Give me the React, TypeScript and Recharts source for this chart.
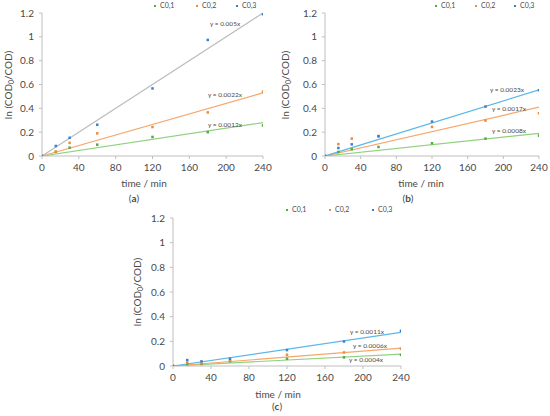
import React from "react";
import { ScatterChart, Scatter, XAxis, YAxis } from "recharts";

const times = [0, 15, 30, 60, 120, 180, 240];
const xTicks = [0, 40, 80, 120, 160, 200, 240];
const yTicks = [0, 0.2, 0.4, 0.6, 0.8, 1, 1.2];
const seriesNames = ["C0,1", "C0,2", "C0,3"];

const aC01 = [0, 0.035, 0.07, 0.095, 0.16, 0.2, 0.257];
const aC02 = [0, 0.036, 0.11, 0.19, 0.243, 0.366, 0.54];
const aC03 = [0, 0.084, 0.153, 0.262, 0.567, 0.974, 1.19];
const aTrendEnd = [0.28, 0.53, 1.2];
const aEquations = ["y = 0.0012x", "y = 0.0022x", "y = 0.005x"];

const bC01 = [0, 0.034, 0.056, 0.076, 0.107, 0.146, 0.171];
const bC02 = [0, 0.1, 0.146, 0.168, 0.244, 0.297, 0.359];
const bC03 = [0, 0.067, 0.098, 0.165, 0.289, 0.415, 0.552];
const bTrendEnd = [0.19, 0.41, 0.555];
const bEquations = ["y = 0.0008x", "y = 0.0017x", "y = 0.0023x"];

const cC01 = [0, 0.016, 0.016, 0.038, 0.059, 0.07, 0.09];
const cC02 = [0, 0.027, 0.02, 0.043, 0.091, 0.11, 0.14];
const cC03 = [0, 0.048, 0.038, 0.059, 0.129, 0.199, 0.285];
const cTrendEnd = [0.097, 0.145, 0.272];
const cEquations = ["y = 0.0004x", "y = 0.0006x", "y = 0.0011x"];

const markerColors = ["#4FAE3F", "#F08A3C", "#3A7FD5"];
const FONT = "Lato, 'Open Sans', sans-serif";
const TEXT = "#4a4a4a";

const toPts = (vals: number[]) => times.map((t, i) => ({ x: t, y: vals[i] }));

const Square = (props: any) => {
  const { cx, cy, fill } = props;
  if (cx == null || cy == null) return <g />;
  return <rect x={cx - 1.25} y={cy - 1.25} width={2.5} height={2.5} fill={fill} />;
};
const NoShape = () => <g />;

type PanelProps = {
  left: number;
  top: number;
  width: number;
  height: number;
  yAxisWidth: number;
  margin: { top: number; right: number; bottom: number; left: number };
  series: number[][];
  trendEnd: number[];
  trendColors: string[];
  yLabelX: number;
};

const Panel = (p: PanelProps) => {
  const plotTop = p.margin.top;
  const plotBottom = p.height - p.margin.bottom - 30;
  const yMid = (plotTop + plotBottom) / 2;
  return (
    <div style={{ position: "absolute", left: p.left, top: p.top }}>
      <ScatterChart width={p.width} height={p.height} margin={p.margin}>
        <XAxis
          type="number"
          dataKey="x"
          domain={[0, 240]}
          ticks={xTicks}
          height={30}
          tickSize={3}
          tickMargin={5}
          stroke="#BFBFBF"
          tick={{ fill: TEXT, fontSize: 10, fontFamily: FONT }}
          allowDataOverflow
        />
        <YAxis
          type="number"
          dataKey="y"
          domain={[0, 1.2]}
          ticks={yTicks}
          width={p.yAxisWidth}
          tickSize={3}
          tickMargin={5}
          stroke="#BFBFBF"
          tick={{ fill: TEXT, fontSize: 10, fontFamily: FONT }}
          allowDataOverflow
        />
        {p.trendEnd.map((end, i) => (
          <Scatter
            key={"t" + i}
            data={[
              { x: 0, y: 0 },
              { x: 240, y: end },
            ]}
            line={{ stroke: p.trendColors[i], strokeWidth: 1.2 }}
            shape={NoShape}
            fill={p.trendColors[i]}
            isAnimationActive={false}
            legendType="none"
          />
        ))}
        {p.series.map((vals, i) => (
          <Scatter
            key={"s" + i}
            name={seriesNames[i]}
            data={toPts(vals)}
            fill={markerColors[i]}
            shape={Square}
            isAnimationActive={false}
          />
        ))}
      </ScatterChart>
      <div
        style={{
          position: "absolute",
          left: p.yLabelX - 60,
          top: yMid - 7,
          width: 120,
          height: 14,
          lineHeight: "14px",
          textAlign: "center",
          transform: "rotate(-90deg)",
          fontFamily: FONT,
          fontSize: 10,
          color: TEXT,
          whiteSpace: "nowrap",
        }}
      >
        ln (COD<sub style={{ fontSize: 7, verticalAlign: "-2px" }}>0</sub>/COD)
      </div>
    </div>
  );
};

const Abs = ({ x, y, size, children, center }: any) => (
  <div
    style={{
      position: "absolute",
      left: center ? x - 50 : x,
      top: y - size * 0.65,
      width: center ? 100 : undefined,
      textAlign: center ? "center" : "left",
      fontFamily: FONT,
      fontSize: size,
      lineHeight: size * 1.3 + "px",
      color: TEXT,
      whiteSpace: "nowrap",
      fontWeight: 400,
    }}
  >
    {children}
  </div>
);

const Legend = ({ xs, y }: { xs: number[]; y: number }) => (
  <>
    {xs.map((x, i) => (
      <div key={i}>
        <div
          style={{
            position: "absolute",
            left: x - 1.25,
            top: y - 1.25,
            width: 2.5,
            height: 2.5,
            background: markerColors[i],
          }}
        />
        <Abs x={x + 5} y={y} size={7}>
          {seriesNames[i]}
        </Abs>
      </div>
    ))}
  </>
);

const Caption = ({ x, y, letter }: any) => (
  <Abs x={x} y={y} size={10} center>
    (<b>{letter}</b>)
  </Abs>
);

export default function App() {
  return (
    <div
      style={{
        position: "absolute",
        left: 0,
        top: 0,
        width: 550,
        height: 416,
        background: "#fff",
        overflow: "hidden",
      }}
    >
      <Panel
        left={0}
        top={0}
        width={275}
        height={205}
        yAxisWidth={42}
        margin={{ top: 13, right: 12, bottom: 19, left: 0 }}
        series={[aC01, aC02, aC03]}
        trendEnd={aTrendEnd}
        trendColors={["#8FD17E", "#F7A66B", "#BDBDBD"]}
        yLabelX={8}
      />
      <Panel
        left={275}
        top={0}
        width={275}
        height={205}
        yAxisWidth={50}
        margin={{ top: 13, right: 11, bottom: 19, left: 0 }}
        series={[bC01, bC02, bC03]}
        trendEnd={bTrendEnd}
        trendColors={["#8FD17E", "#F7A66B", "#5CB8E8"]}
        yLabelX={10}
      />
      <Panel
        left={130}
        top={205}
        width={290}
        height={211}
        yAxisWidth={43}
        margin={{ top: 13, right: 19, bottom: 20, left: 0 }}
        series={[cC01, cC02, cC03]}
        trendEnd={cTrendEnd}
        trendColors={["#8FD17E", "#F7A66B", "#5CB8E8"]}
        yLabelX={7}
      />

      <Legend xs={[155, 197, 237]} y={6} />
      <Legend xs={[436, 476, 515]} y={6} />
      <Legend xs={[287, 330, 373]} y={210} />

      <Abs x={210} y={24} size={6.5}>{aEquations[2]}</Abs>
      <Abs x={208} y={95} size={6.5}>{aEquations[1]}</Abs>
      <Abs x={208} y={125} size={6.5}>{aEquations[0]}</Abs>

      <Abs x={490} y={90} size={6.5}>{bEquations[2]}</Abs>
      <Abs x={492} y={109} size={6.5}>{bEquations[1]}</Abs>
      <Abs x={492} y={131} size={6.5}>{bEquations[0]}</Abs>

      <Abs x={350} y={332} size={6.5}>{cEquations[2]}</Abs>
      <Abs x={353} y={346} size={6.5}>{cEquations[1]}</Abs>
      <Abs x={349} y={360} size={6.5}>{cEquations[0]}</Abs>

      <Abs x={144} y={183} size={10} center>time / min</Abs>
      <Abs x={421} y={183} size={10} center>time / min</Abs>
      <Abs x={278} y={394} size={10} center>time / min</Abs>

      <Caption x={134} y={198} letter="a" />
      <Caption x={408} y={198} letter="b" />
      <Caption x={277} y={406} letter="c" />
    </div>
  );
}
